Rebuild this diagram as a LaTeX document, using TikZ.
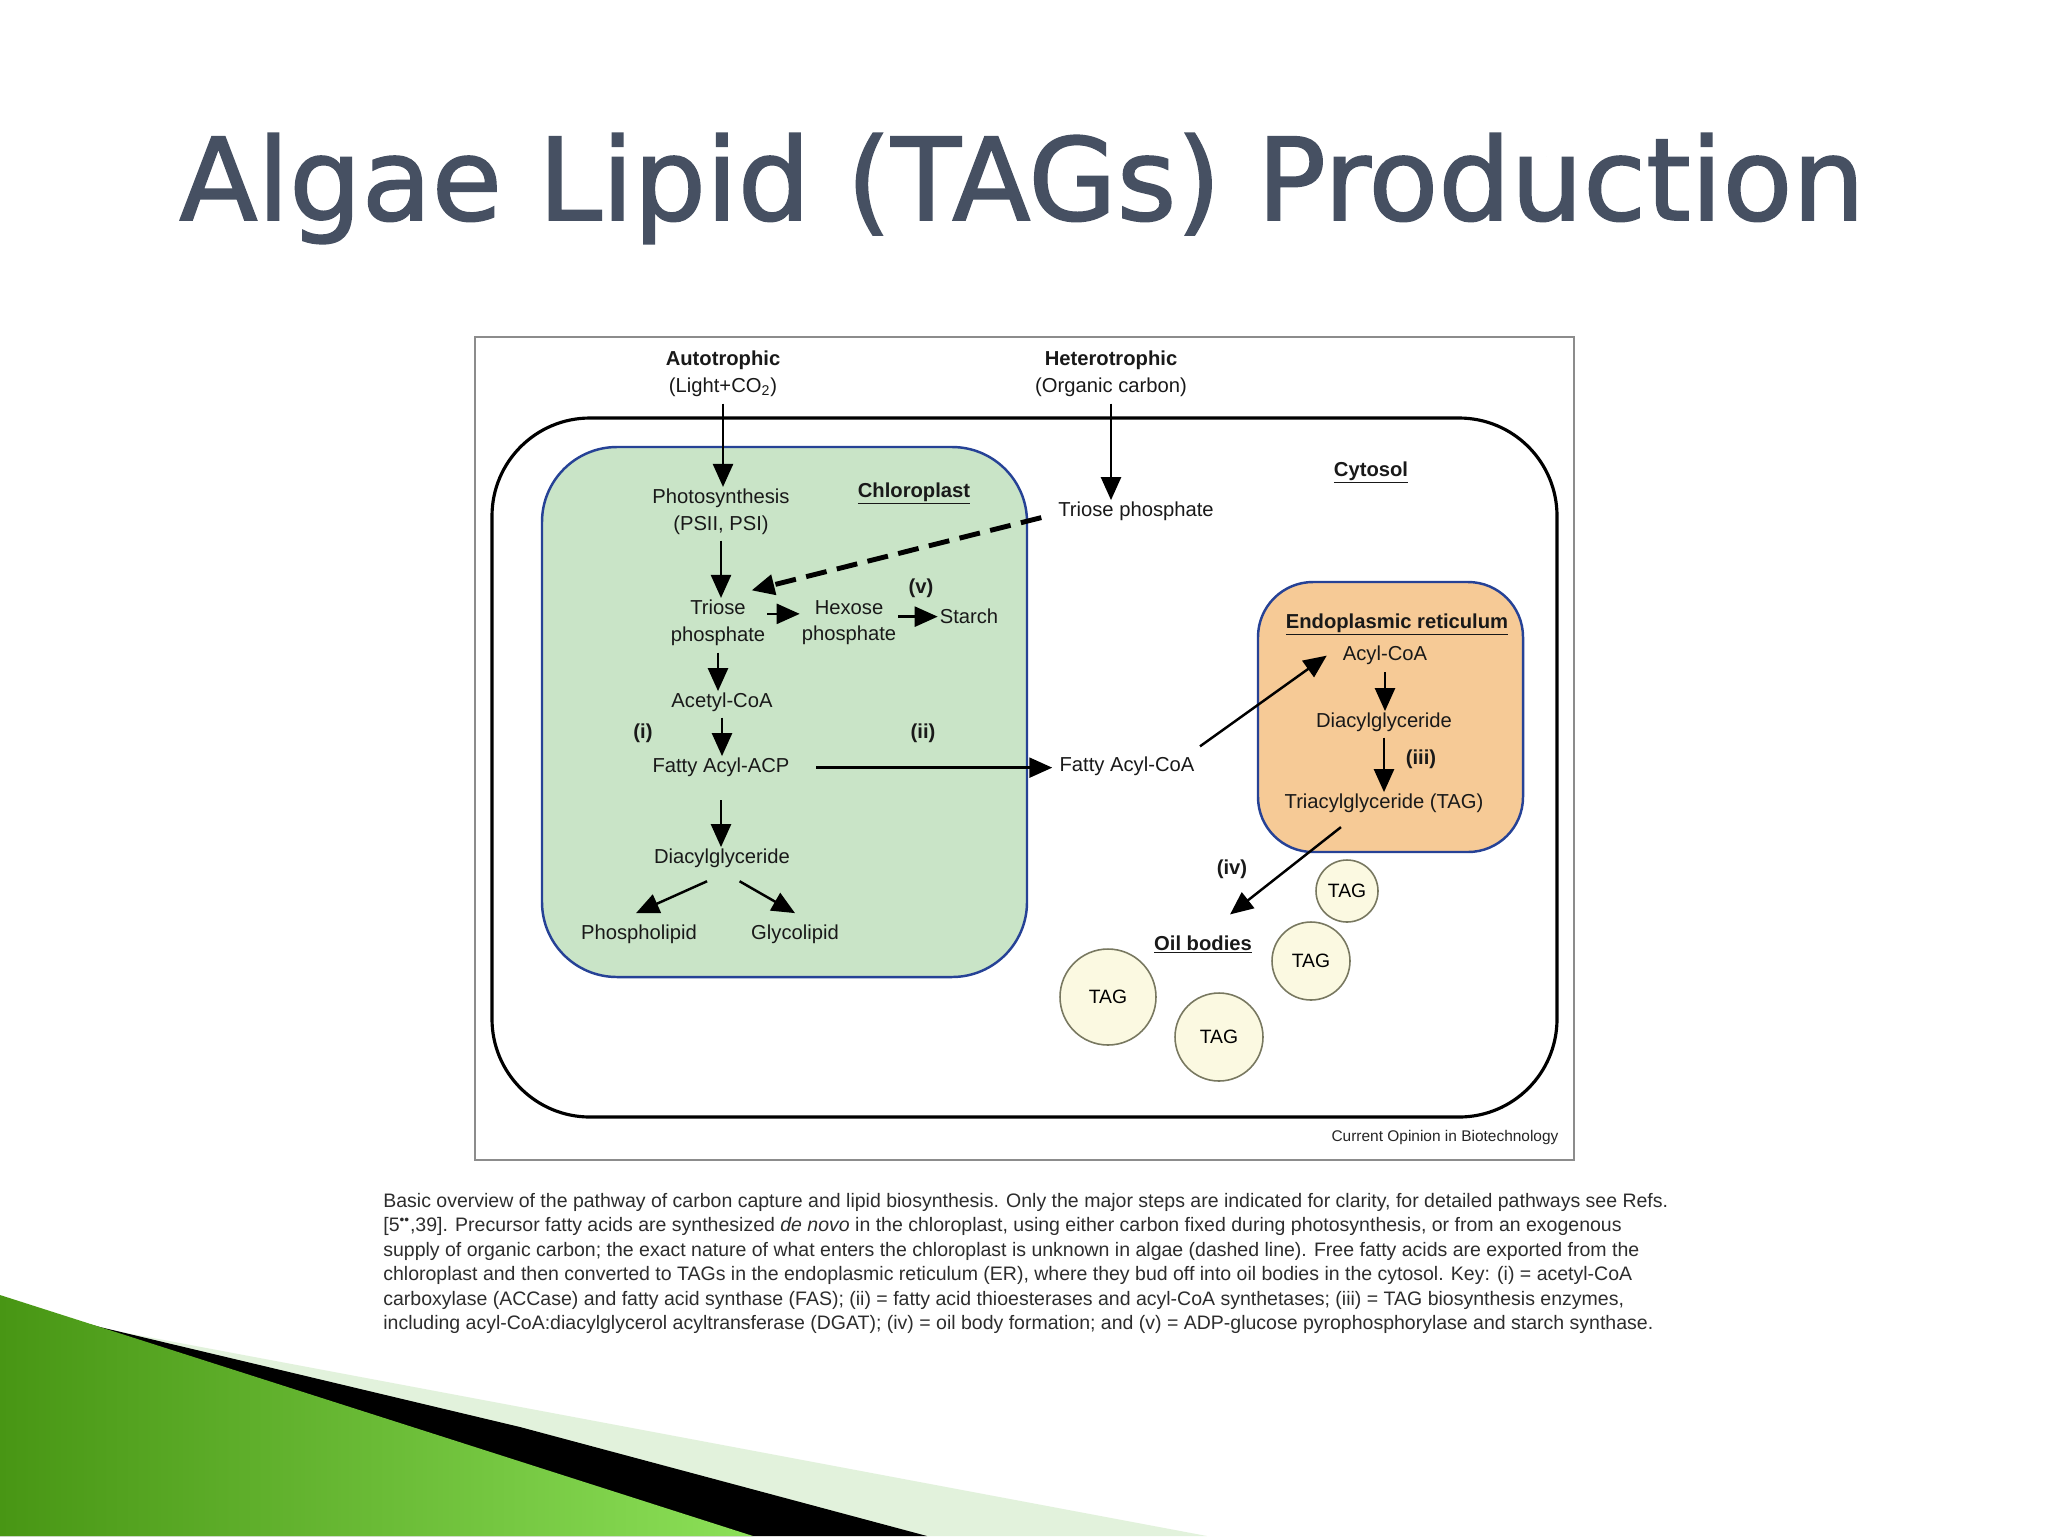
\documentclass[tikz,border=0pt]{standalone}
\usepackage{fontspec}
\setmainfont{Liberation Sans}
\newfontfamily\titlefont[FakeBold=1.5]{DejaVu Sans}
\usetikzlibrary{arrows.meta}
\definecolor{titlegray}{RGB}{70,80,98}
\definecolor{chlgreen}{RGB}{201,228,199}
\definecolor{erorange}{RGB}{246,202,150}
\definecolor{membblue}{RGB}{38,66,150}
\definecolor{oilcream}{RGB}{251,249,225}
\definecolor{oilrim}{RGB}{120,120,96}
\definecolor{captext}{RGB}{45,45,45}
\definecolor{swoosh}{RGB}{226,242,220}
\definecolor{leafdark}{RGB}{72,150,20}
\definecolor{leaflight}{RGB}{140,224,88}
\newcommand{\dfont}{\fontsize{11.5pt}{15pt}\selectfont}
\begin{document}
\begin{tikzpicture}[x=0.02cm, y=-0.02cm,
    lbl/.style={font=\dfont, align=center, inner sep=1pt, text=black!90, yshift=-1.5pt},
    hd/.style={lbl, font=\dfont\bfseries},
    drop/.style={circle, draw=oilrim, line width=0.9pt, fill=oilcream,
      font=\fontsize{11pt}{13pt}\selectfont, inner sep=0pt},
    flow/.style={-{Triangle[length=0.46cm,width=0.4cm]}, line width=1.4pt}
  ]
  \useasboundingbox (0,0) rectangle (2048,1536);
  \fill[white] (0,0) rectangle (2048,1536);

  \fill[swoosh] (100,1328) -- (1207,1536) -- (0,1536) -- (0,1300) -- cycle;
  \fill[black] (100,1327) -- (520,1427) -- (927,1536) -- (0,1536) -- (0,1300) -- cycle;
  \shade[left color=leafdark, right color=leaflight]
    (0,1295) -- (753,1536) -- (0,1536) -- cycle;

  \node[font={\titlefont\fontsize{65pt}{72pt}\selectfont}, text=titlegray,
    anchor=base, inner sep=0pt] (title) at (1022,220)
    {Algae Lipid (TAGs) Production};

  \draw[draw=black!45, line width=1.1pt, fill=white] (475,337) rectangle (1574,1160);
  \draw[line width=1.8pt, rounded corners=1.96cm] (492,418) rectangle (1557,1117);
  \draw[membblue, fill=chlgreen, line width=1.4pt, rounded corners=1.5cm]
    (542,447) rectangle (1027,977);
  \draw[membblue, fill=erorange, line width=1.4pt, rounded corners=1.1cm]
    (1258,582) rectangle (1523,852);

  \node[lbl] (auto) at (723,371) {\textbf{Autotrophic}\\(Light+CO\textsubscript{2})};
  \node[lbl] (hetero) at (1111,371) {\textbf{Heterotrophic}\\(Organic carbon)};
  \node[lbl] (photo) at (721,509) {Photosynthesis\\(PSII, PSI)};
  \node[hd] (chlname) at (914,491) {\underline{Chloroplast}};
  \node[lbl] (tpcyt) at (1136,509) {Triose phosphate};
  \node[hd] (cytname) at (1371,470) {\underline{Cytosol}};
  \node[lbl] (tp) at (718,620) {Triose\\phosphate};
  \node[lbl] (hp) at (849,620) {Hexose\\phosphate};
  \node[hd] (keyv) at (921,586) {(v)};
  \node[lbl] (starch) at (969,614) {Starch};
  \node[lbl] (acoa) at (722,700) {Acetyl-CoA};
  \node[hd] (keyi) at (643,731) {(i)};
  \node[lbl] (acp) at (721,765) {Fatty Acyl-ACP};
  \node[hd] (keyii) at (923,731) {(ii)};
  \node[lbl] (facoa) at (1127,764) {Fatty Acyl-CoA};
  \node[lbl] (dag) at (722,856) {Diacylglyceride};
  \node[lbl] (phos) at (639,932) {Phospholipid};
  \node[lbl] (glyco) at (795,932) {Glycolipid};

  \node[hd] (ername) at (1397,622) {\underline{Endoplasmic reticulum}};
  \node[lbl] (eracoa) at (1385,653) {Acyl-CoA};
  \node[lbl] (erdag) at (1384,720) {Diacylglyceride};
  \node[hd] (keyiii) at (1421,757) {(iii)};
  \node[lbl] (tag) at (1384,801) {Triacylglyceride (TAG)};
  \node[hd] (keyiv) at (1232,867) {(iv)};
  \node[hd] (oil) at (1203,942) {\underline{Oil bodies}};

  \node[drop, minimum size=1.24cm] (taga) at (1347,891) {TAG};
  \node[drop, minimum size=1.56cm] (tagb) at (1311,961) {TAG};
  \node[drop, minimum size=1.92cm] (tagc) at (1108,997) {TAG};
  \node[drop, minimum size=1.76cm] (tagd) at (1219,1037) {TAG};

  \node[font=\fontsize{8.8pt}{10pt}\selectfont, inner sep=0pt, text=black!85]
    (source) at (1445,1137) {Current Opinion in Biotechnology};

  \node[anchor=north west, align=left, inner sep=0pt, text=captext,
    font=\fontsize{11.1pt}{13.9pt}\selectfont] (caption) at (383,1193)
    {Basic overview of the pathway of carbon capture and lipid biosynthesis. Only the major steps are indicated for clarity, for detailed pathways see Refs.\\
     {[}5\textsuperscript{••},39{]}. Precursor fatty acids are synthesized \textit{de novo} in the chloroplast, using either carbon fixed during photosynthesis, or from an exogenous\\
     supply of organic carbon; the exact nature of what enters the chloroplast is unknown in algae (dashed line). Free fatty acids are exported from the\\
     chloroplast and then converted to TAGs in the endoplasmic reticulum (ER), where they bud off into oil bodies in the cytosol. Key: (i) = acetyl-CoA\\
     carboxylase (ACCase) and fatty acid synthase (FAS); (ii) = fatty acid thioesterases and acyl-CoA synthetases; (iii) = TAG biosynthesis enzymes,\\
     including acyl-CoA:diacylglycerol acyltransferase (DGAT); (iv) = oil body formation; and (v) = ADP-glucose pyrophosphorylase and starch synthase.};

  \draw[flow, shorten <=3pt] (auto.south) -- (auto.south |- photo.north);
  \draw[flow, shorten <=3pt] (hetero.south) -- (hetero.south |- tpcyt.north);
  \draw[flow, shorten <=2.5pt] (photo.south) -- (photo.south |- tp.north);
  \draw[flow, line width=2.8pt, dash pattern=on 12pt off 6pt]
    ([xshift=-8.5pt, yshift=-3.4pt]tpcyt.west) -- ([xshift=-9pt, yshift=4.3pt]tp.north east);
  \draw[flow] ([yshift=5pt]tp.east) -- ([yshift=5pt]tp.east -| hp.west);
  \draw[flow] (hp.east |- starch.west) -- (starch.west);
  \draw[flow, shorten <=3pt] (tp.south) -- (tp.south |- acoa.north);
  \draw[flow, shorten <=2pt] (acoa.south) -- (acoa.south |- acp.north);
  \draw[flow, shorten <=14pt, shorten >=3pt] (acp.east) -- (acp.east -| facoa.west);
  \draw[flow, shorten <=12pt] (acp.south) -- (acp.south |- dag.north);
  \draw[flow] ([xshift=-8.5pt, yshift=-6.3pt]dag.south) -- ([xshift=-1.7pt, yshift=5.7pt]phos.north);
  \draw[flow] ([xshift=10pt, yshift=-6.3pt]dag.south) -- ([yshift=5.7pt]glyco.north);
  \draw[flow] ([xshift=2pt, yshift=5pt]facoa.north east) -- ([xshift=-8pt]eracoa.west);
  \draw[flow, shorten <=3pt] (eracoa.south) -- (eracoa.south |- erdag.north);
  \draw[flow, shorten <=2pt] (erdag.south) -- (erdag.south |- tag.north);
  \draw[flow] ([xshift=-24.5pt, yshift=-6.8pt]tag.south) -- ([xshift=15.4pt, yshift=10.8pt]oil.north);
\end{tikzpicture}
\end{document}
